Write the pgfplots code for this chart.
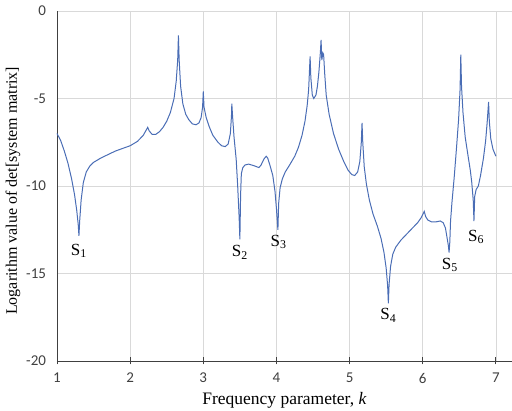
\documentclass[border=0pt]{standalone}
\usepackage{pgfplots}
\pgfplotsset{compat=1.18}
\usepackage{fontspec}
\setmainfont{Liberation Serif}
\newfontfamily\tickfont{Carlito}
\definecolor{curve}{HTML}{4A6DB5}
\definecolor{gridc}{HTML}{D9D9D9}
\definecolor{axisc}{HTML}{404040}

\begin{document}
\begin{tikzpicture}
\begin{axis}[
  scale only axis, width=455pt, height=350pt,
  xmin=1, xmax=7.22, ymin=-20, ymax=0,
  xtick={1,...,7}, ytick={-20,-15,-10,-5,0},
  axis x line=bottom, axis y line=left,
  axis line style={-, draw=axisc, line width=0.9pt},
  x axis line style={-}, y axis line style={-},
  xmajorgrids, ymajorgrids,
  major grid style={gridc, line width=0.8pt},
  xtick style={draw=axisc, line width=0.9pt},
  ytick style={draw=none},
  major tick length=7pt, tick align=center,
  /pgf/number format/assume math mode=true,
  tick label style={font=\tickfont\fontsize{15}{16}\selectfont, text=axisc},
  xticklabel style={yshift=-5pt},
  yticklabel style={xshift=-4pt},
  xlabel={Frequency parameter, \textit{k}},
  ylabel={Logarithm value of det[system matrix]},
  xlabel style={font=\fontsize{17.5}{19}\selectfont, at={(axis description cs:0.5,0)}, anchor=base, yshift=-44pt},
  ylabel style={font=\fontsize{16}{18}\selectfont, at={(axis description cs:0,0.486)}, anchor=center, yshift=44pt},
  clip=false,
]
\addplot[curve, line width=1pt] coordinates {
(1.00,-7.0) (1.05,-7.4) (1.10,-8.0) (1.15,-8.7) (1.20,-9.6) (1.24,-10.5) (1.27,-11.4) (1.29,-12.2) (1.30,-12.85)
(1.31,-12.0) (1.33,-10.8) (1.36,-9.8) (1.40,-9.2) (1.45,-8.85) (1.50,-8.65) (1.60,-8.4) (1.70,-8.2) (1.80,-8.0)
(1.90,-7.85) (2.00,-7.7) (2.10,-7.45) (2.18,-7.1) (2.22,-6.8) (2.24,-6.65) (2.26,-6.85) (2.30,-7.05) (2.35,-7.05)
(2.40,-6.9) (2.45,-6.65) (2.50,-6.3) (2.55,-5.8) (2.60,-5.0) (2.63,-4.0) (2.65,-2.8) (2.66,-1.4) (2.67,-2.8)
(2.69,-4.3) (2.72,-5.3) (2.76,-5.9) (2.80,-6.2) (2.85,-6.45) (2.90,-6.5) (2.94,-6.4) (2.97,-6.1) (2.99,-5.5)
(3.00,-4.6) (3.01,-5.5) (3.04,-6.1) (3.08,-6.6) (3.13,-7.1) (3.20,-7.5) (3.25,-7.7) (3.30,-7.75) (3.34,-7.6)
(3.37,-7.0) (3.385,-6.0) (3.39,-5.3) (3.40,-6.0) (3.42,-7.2) (3.45,-8.5) (3.47,-10.0) (3.49,-11.8) (3.50,-13.05)
(3.51,-10.5) (3.52,-9.3) (3.54,-8.95) (3.57,-8.8) (3.62,-8.75) (3.70,-8.85) (3.76,-8.95) (3.79,-8.8) (3.83,-8.45)
(3.86,-8.3) (3.88,-8.4) (3.91,-8.8) (3.95,-9.4) (3.98,-10.3) (4.00,-11.3) (4.02,-12.5) (4.03,-11.0) (4.05,-10.1)
(4.08,-9.6) (4.12,-9.2) (4.18,-8.8) (4.25,-8.3) (4.30,-7.8) (4.35,-7.1) (4.39,-6.3) (4.42,-5.4) (4.44,-4.5)
(4.46,-2.6) (4.47,-3.8) (4.49,-4.8) (4.51,-5.0) (4.54,-4.8) (4.56,-4.3) (4.58,-3.5) (4.60,-2.4) (4.61,-1.65)
(4.62,-2.8) (4.635,-2.4) (4.645,-2.5) (4.66,-3.6) (4.68,-4.8) (4.72,-5.9) (4.78,-7.0) (4.85,-7.9) (4.92,-8.6)
(4.98,-9.1) (5.03,-9.35) (5.07,-9.4) (5.11,-9.2) (5.14,-8.6) (5.16,-7.5) (5.17,-6.4) (5.18,-7.5) (5.20,-8.9)
(5.23,-9.9) (5.27,-10.8) (5.32,-11.6) (5.38,-12.3) (5.43,-13.0) (5.47,-13.8) (5.50,-14.7) (5.52,-15.7) (5.53,-16.7)
(5.54,-15.6) (5.56,-14.6) (5.59,-13.9) (5.63,-13.5) (5.70,-13.1) (5.78,-12.75) (5.86,-12.4) (5.93,-12.1) (5.98,-11.8)
(6.01,-11.55) (6.02,-11.45) (6.04,-11.75) (6.07,-11.95) (6.12,-12.05) (6.18,-12.05) (6.24,-12.0) (6.28,-12.1)
(6.31,-12.4) (6.33,-12.9) (6.35,-13.4) (6.36,-13.8) (6.37,-13.2) (6.38,-12.0) (6.40,-10.9) (6.43,-9.5) (6.46,-7.9)
(6.49,-6.2) (6.51,-4.5) (6.52,-2.5) (6.53,-4.3) (6.55,-5.8) (6.58,-7.2) (6.62,-8.3) (6.65,-9.1) (6.67,-9.8)
(6.69,-10.8) (6.70,-12.0) (6.71,-10.6) (6.73,-10.2) (6.76,-10.0) (6.79,-9.4) (6.83,-8.4) (6.86,-7.4) (6.88,-6.4)
(6.90,-5.2) (6.91,-6.3) (6.93,-7.3) (6.96,-7.9) (7.00,-8.3)
};
\begin{scope}[font=\fontsize{17}{19}\selectfont]
\node at (axis cs:1.30,-13.7) {S\textsubscript{1}};
\node at (axis cs:3.50,-13.8) {S\textsubscript{2}};
\node at (axis cs:4.03,-13.2) {S\textsubscript{3}};
\node at (axis cs:5.53,-17.4) {S\textsubscript{4}};
\node at (axis cs:6.37,-14.5) {S\textsubscript{5}};
\node at (axis cs:6.73,-12.9) {S\textsubscript{6}};
\end{scope}
\end{axis}
\pgfresetboundingbox
\path (-57pt,-50pt) rectangle (455pt,361pt);
\end{tikzpicture}
\end{document}
